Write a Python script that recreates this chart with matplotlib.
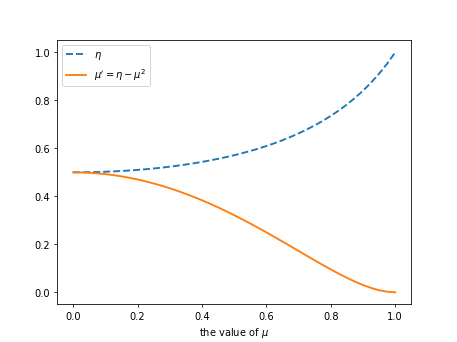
import matplotlib
matplotlib.use("Agg")
import matplotlib.pyplot as plt

mu = [0.0, 0.025, 0.05, 0.075, 0.1, 0.125, 0.15, 0.175, 0.2, 0.225, 0.25,
      0.275, 0.3, 0.325, 0.35, 0.375, 0.4, 0.425, 0.45, 0.475, 0.5,
      0.525, 0.55, 0.575, 0.6, 0.625, 0.65, 0.675, 0.7, 0.725, 0.75,
      0.775, 0.8, 0.825, 0.85, 0.875, 0.9, 0.925, 0.95, 0.975, 1.0]
eta = [0.5, 0.50016, 0.5006, 0.50141, 0.5025, 0.50394, 0.5057, 0.50778,
       0.5102, 0.51299, 0.5161, 0.51965, 0.5236, 0.52788, 0.5326, 0.53782,
       0.5435, 0.54964, 0.5563, 0.56358, 0.5714, 0.57992, 0.5891, 0.59903,
       0.6098, 0.62136, 0.6339, 0.64751, 0.6623, 0.67825, 0.6957, 0.71461,
       0.7353, 0.75793, 0.7828, 0.81013, 0.8403, 0.87384, 0.9112, 0.95295, 1.0]
mu_prime = [0.5, 0.49954, 0.4981, 0.49579, 0.4925, 0.48832, 0.4832, 0.47716,
            0.4702, 0.46237, 0.4536, 0.44403, 0.4336, 0.42226, 0.4101, 0.3972,
            0.3835, 0.36902, 0.3538, 0.33796, 0.3214, 0.3043, 0.2866, 0.26841,
            0.2498, 0.23074, 0.2114, 0.19189, 0.1723, 0.15263, 0.1332, 0.11399,
            0.0953, 0.07731, 0.0603, 0.04451, 0.0303, 0.01822, 0.0087, 0.00233, 0.0]

dpi = 457 / 6.4
fig, ax = plt.subplots(figsize=(6.4, 4.8), dpi=dpi)
ax.plot(mu, eta, '--', lw=1.9, label=r'$\eta$')
ax.plot(mu, mu_prime, '-', lw=1.9, label=r"$\mu'=\eta-\mu^2$")
ax.set_xlabel(r'the value of $\mu$')
ax.legend(loc='upper left')
fig.savefig('out.png', dpi=dpi)
